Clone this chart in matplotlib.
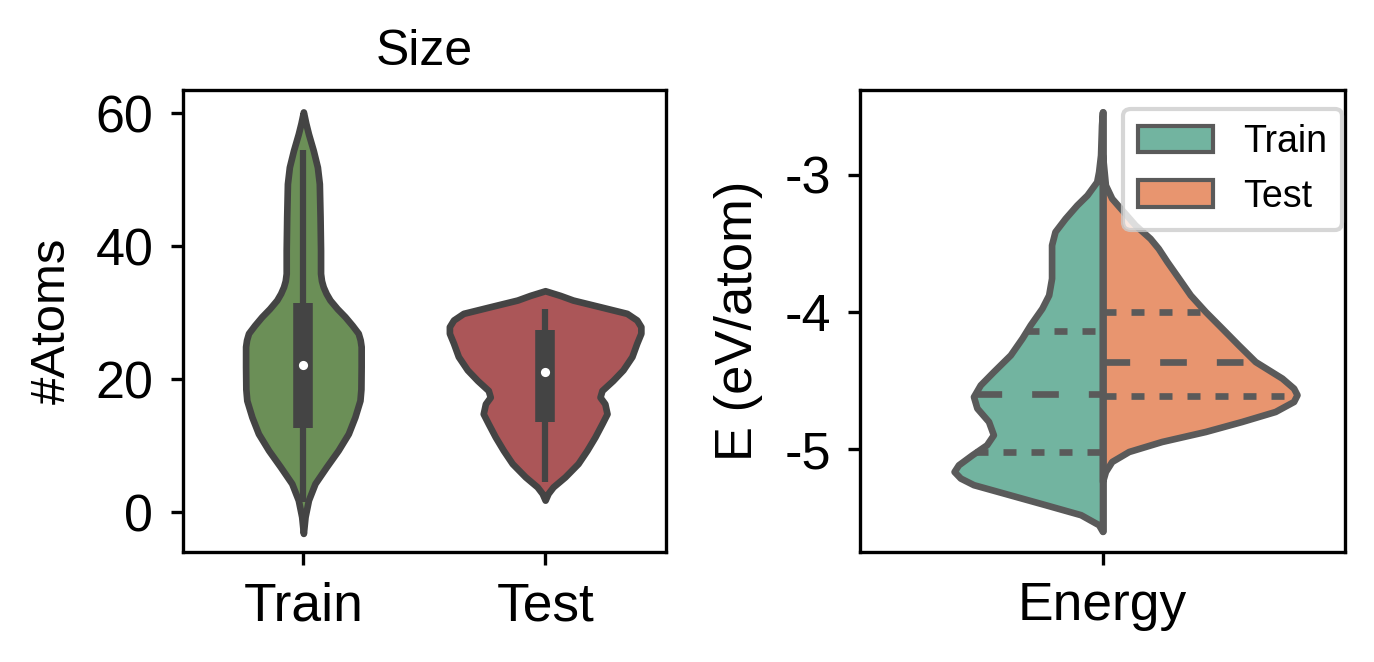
import matplotlib
matplotlib.use("Agg")
import matplotlib.pyplot as plt
import numpy as np
from matplotlib.patches import Patch

plt.rcParams['font.family'] = ['Liberation Sans', 'DejaVu Sans']
plt.rcParams['axes.unicode_minus'] = False

# ---------------- data ----------------
size_categories = ["Train", "Test"]
size_colors = ["#6b8f57", "#ab5658"]

# violin outline: y-levels (#atoms) and half-widths (category units)
size_train_y = [60.2, 58.5, 56.9, 54.4, 51.9, 49.4, 44.4, 39.4, 35.9, 34.8, 33.9, 32.9, 31.9,
                30.6, 29.4, 28.1, 26.9, 25.9, 24.9, 21.9, 18.5, 16.8, 14.3, 11.8, 9.3, 6.8,
                4.3, 1.8, -0.7, -3.2]
size_train_w = [0.0, 0.010, 0.021, 0.041, 0.058, 0.066, 0.069, 0.071, 0.071, 0.075, 0.082, 0.094,
                0.110, 0.140, 0.172, 0.202, 0.227, 0.235, 0.239, 0.239, 0.238, 0.234, 0.213, 0.186,
                0.144, 0.095, 0.048, 0.021, 0.007, 0.0]
size_test_y = [33.3, 32.6, 31.9, 30.9, 29.9, 28.9, 27.9, 26.9, 25.4, 23.4, 21.4, 19.8, 18.3,
               17.3, 16.3, 14.8, 13.3, 11.3, 9.3, 7.3, 5.3, 3.8, 2.8, 1.8]
size_test_w = [0.0, 0.062, 0.115, 0.227, 0.338, 0.379, 0.396, 0.396, 0.379, 0.359, 0.322, 0.280,
               0.235, 0.227, 0.247, 0.256, 0.235, 0.206, 0.173, 0.136, 0.082, 0.033, 0.012, 0.0]
# box stats: whisker low, q1, median, q3, whisker high
size_train_box = [1.5, 12.6, 22.1, 31.4, 54.4]
size_test_box = [4.6, 13.6, 21.1, 27.4, 30.5]

energy_groups = ["Train", "Test"]
energy_colors = ["#72b4a0", "#e8956f"]
energy_train_y = [-2.539, -2.636, -2.854, -2.976, -3.049, -3.146, -3.219, -3.316, -3.413, -3.510,
                  -3.632, -3.753, -3.875, -3.972, -4.093, -4.190, -4.312, -4.434, -4.531, -4.616,
                  -4.700, -4.798, -4.895, -4.968, -5.041, -5.114, -5.163, -5.211, -5.259, -5.332,
                  -5.405, -5.478, -5.551, -5.600]
energy_train_w = [0.0, 0.002, 0.004, 0.008, 0.012, 0.032, 0.053, 0.077, 0.098, 0.105,
                  0.105, 0.105, 0.111, 0.125, 0.149, 0.166, 0.190, 0.225, 0.252, 0.266,
                  0.259, 0.235, 0.225, 0.239, 0.269, 0.297, 0.306, 0.293, 0.266, 0.192,
                  0.118, 0.045, 0.008, 0.0]
energy_test_y = [-2.854, -3.073, -3.170, -3.267, -3.364, -3.462, -3.535, -3.632, -3.753, -3.875,
                 -3.996, -4.117, -4.239, -4.361, -4.482, -4.555, -4.603, -4.652, -4.725, -4.798,
                 -4.871, -4.944, -5.017, -5.090, -5.163, -5.236]
energy_test_w = [0.0, 0.006, 0.019, 0.043, 0.067, 0.098, 0.115, 0.133, 0.157, 0.181,
                 0.212, 0.246, 0.280, 0.315, 0.370, 0.394, 0.401, 0.394, 0.356, 0.287,
                 0.212, 0.122, 0.054, 0.019, 0.006, 0.0]
# quartiles: q1, median, q3
energy_train_quart = [-5.024, -4.599, -4.137]
energy_test_quart = [-4.615, -4.361, -3.996]

# ---------------- figure ----------------
DPI = 300
fig = plt.figure(figsize=(1374 / DPI, 662 / DPI), dpi=DPI)
ax1 = fig.add_axes([182.5 / 1374, 110 / 662, 483.5 / 1374, 462 / 662])
ax2 = fig.add_axes([860 / 1374, 110 / 662, 485 / 1374, 462 / 662])

LW = 1.6
EDGE1 = "#444444"
EDGE2 = "#5a5a5a"


def draw_violin(ax, pos, ys, ws, color, edge):
    ys = np.asarray(ys)
    ws = np.asarray(ws)
    ax.fill_betweenx(ys, pos - ws, pos + ws, facecolor=color, edgecolor=edge,
                     linewidth=LW, joinstyle="round", capstyle="round", zorder=1)


def draw_box(ax, pos, stats, edge):
    lo, q1, med, q3, hi = stats
    ax.plot([pos, pos], [lo, hi], color=edge, lw=1.5, solid_capstyle="butt", zorder=2)
    ax.plot([pos, pos], [q1, q3], color=edge, lw=4.7, solid_capstyle="butt", zorder=2)
    ax.plot([pos], [med], "o", color="white", markersize=2.2, markeredgewidth=0, zorder=3)


for i, (ys, ws, col, box) in enumerate([
        (size_train_y, size_train_w, size_colors[0], size_train_box),
        (size_test_y, size_test_w, size_colors[1], size_test_box)]):
    draw_violin(ax1, i, ys, ws, col, EDGE1)
    draw_box(ax1, i, box, EDGE1)

ax1.set_xlim(-0.5, 1.5)
ax1.set_ylim(-6.0, 63.5)
ax1.set_xticks([0, 1])
ax1.set_xticklabels(size_categories)
ax1.set_yticks([0, 20, 40, 60])
ax1.set_title("Size", fontsize=12, pad=6)
ax1.set_ylabel("#Atoms", fontsize=11.8, labelpad=5)

# split violin
ty = np.asarray(energy_train_y)
tw = np.asarray(energy_train_w)
ax2.fill_betweenx(ty, 0 - tw, 0, facecolor=energy_colors[0], edgecolor=EDGE2,
                  linewidth=LW, joinstyle="round", zorder=1)
sy = np.asarray(energy_test_y)
sw = np.asarray(energy_test_w)
ax2.fill_betweenx(sy, 0, 0 + sw, facecolor=energy_colors[1], edgecolor=EDGE2,
                  linewidth=LW, joinstyle="round", zorder=1)
ax2.plot([0, 0], [ty.min(), ty.max()], color=EDGE2, lw=LW, solid_capstyle="round", zorder=2)


def quart_lines(ys, ws, quart, side):
    ys = np.asarray(ys)
    ws = np.asarray(ws)
    order = np.argsort(ys)
    for k, q in enumerate(quart):
        w = np.interp(q, ys[order], ws[order])
        dashes = (4.0, 4.5) if k == 1 else (1.95, 2.25)
        if side < 0:
            xs = [-w, 0]
        else:
            xs = [0, w]
        ax2.plot(xs, [q, q], color=EDGE2, lw=LW, dashes=dashes,
                 solid_capstyle="butt", dash_capstyle="butt", zorder=2)


quart_lines(energy_train_y, energy_train_w, energy_train_quart, -1)
quart_lines(energy_test_y, energy_test_w, energy_test_quart, 1)

ax2.set_xlim(-0.5, 0.5)
ax2.set_ylim(-5.75, -2.38)
ax2.set_xticks([0])
ax2.set_xticklabels(["Energy"])
ax2.set_yticks([-5, -4, -3])
ax2.set_ylabel("E (eV/atom)", fontsize=12.6, labelpad=5)

handles = [Patch(facecolor=energy_colors[0], edgecolor=EDGE2, linewidth=1.0, label="Train"),
           Patch(facecolor=energy_colors[1], edgecolor=EDGE2, linewidth=1.0, label="Test")]
ax2.legend(handles=handles, loc="upper right", bbox_to_anchor=(0.994, 0.959),
           borderaxespad=0, fontsize=9, frameon=True)

for ax in (ax1, ax2):
    for s in ax.spines.values():
        s.set_linewidth(0.8)
    ax.tick_params(axis="both", labelsize=12.5, length=3, width=0.8, pad=4)
    ax.tick_params(axis="x", labelsize=12.8)

fig.savefig("out.png", dpi=DPI)
